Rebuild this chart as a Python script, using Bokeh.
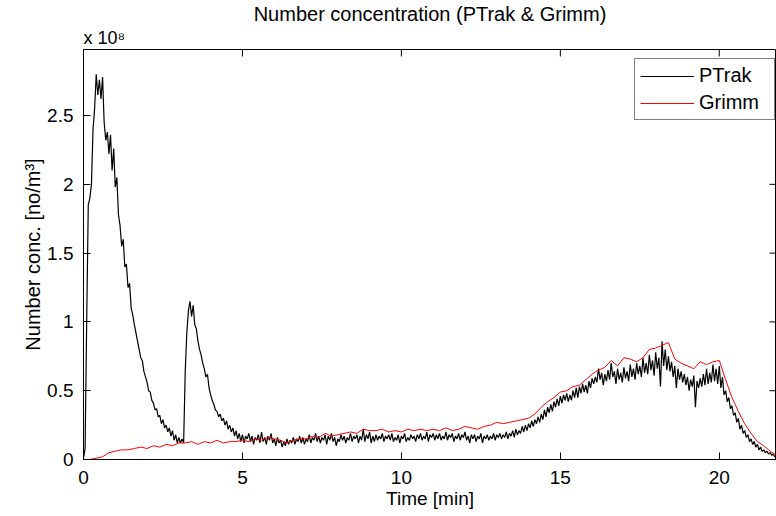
from bokeh.plotting import figure
from bokeh.models import (Range1d, FixedTicker, Legend, LegendItem, Title,
                          CustomJSTickFormatter)
from bokeh.embed import file_html
from bokeh.resources import INLINE

# ---------------- data (values in units of 1e8 particles / m^3) ----------------
PTRAK_STEP = 0.05   # minutes between PTrak samples
GRIMM_STEP = 0.2    # minutes between Grimm samples

ptrak = [
    0.01, 0.08, 1.00, 1.85, 1.90, 2.00, 2.40, 2.55, 2.80, 2.65, 2.76, 2.62, 2.78, 2.45, 2.32, 2.38, 2.22, 2.36, 2.10, 2.26,
    1.98, 2.05, 1.78, 1.70, 1.55, 1.60, 1.40, 1.42, 1.25, 1.28, 1.10, 1.05, 0.98, 0.92, 0.86, 0.80, 0.74, 0.72, 0.64, 0.60,
    0.56, 0.50, 0.49, 0.43, 0.41, 0.36, 0.37, 0.31, 0.32, 0.26, 0.29, 0.23, 0.25, 0.20, 0.23, 0.17, 0.21, 0.14, 0.18, 0.12,
    0.16, 0.12, 0.15, 0.12, 0.64, 0.92, 1.08, 1.15, 1.04, 1.12, 0.98, 0.95, 0.86, 0.80, 0.76, 0.70, 0.66, 0.60, 0.62, 0.52,
    0.47, 0.43, 0.40, 0.36, 0.35, 0.31, 0.33, 0.28, 0.30, 0.25, 0.28, 0.22, 0.25, 0.20, 0.23, 0.17, 0.21, 0.15, 0.19, 0.13,
    0.18, 0.12, 0.17, 0.15, 0.19, 0.13, 0.17, 0.11, 0.16, 0.14, 0.18, 0.12, 0.20, 0.13, 0.16, 0.11, 0.17, 0.14, 0.19, 0.12,
    0.15, 0.10, 0.16, 0.12, 0.14, 0.09, 0.13, 0.10, 0.15, 0.11, 0.14, 0.12, 0.16, 0.11, 0.15, 0.13, 0.17, 0.12, 0.16, 0.11,
    0.15, 0.13, 0.18, 0.12, 0.16, 0.14, 0.19, 0.13, 0.17, 0.12, 0.16, 0.14, 0.18, 0.11, 0.17, 0.14, 0.19, 0.13, 0.16, 0.10,
    0.15, 0.13, 0.18, 0.14, 0.17, 0.12, 0.16, 0.14, 0.19, 0.13, 0.17, 0.15, 0.18, 0.12, 0.17, 0.14, 0.22, 0.13, 0.18, 0.15,
    0.20, 0.12, 0.17, 0.13, 0.18, 0.14, 0.17, 0.15, 0.19, 0.13, 0.17, 0.15, 0.18, 0.14, 0.19, 0.13, 0.16, 0.14, 0.18, 0.12,
    0.17, 0.15, 0.19, 0.13, 0.16, 0.14, 0.18, 0.15, 0.17, 0.13, 0.18, 0.15, 0.19, 0.14, 0.17, 0.15, 0.20, 0.13, 0.18, 0.16,
    0.19, 0.14, 0.18, 0.15, 0.19, 0.14, 0.17, 0.15, 0.20, 0.14, 0.18, 0.16, 0.19, 0.13, 0.17, 0.15, 0.19, 0.14, 0.18, 0.16,
    0.20, 0.14, 0.17, 0.12, 0.18, 0.15, 0.18, 0.13, 0.17, 0.15, 0.19, 0.12, 0.17, 0.15, 0.18, 0.14, 0.17, 0.15, 0.19, 0.14,
    0.18, 0.16, 0.19, 0.15, 0.18, 0.16, 0.20, 0.15, 0.19, 0.17, 0.21, 0.16, 0.22, 0.18, 0.21, 0.19, 0.24, 0.20, 0.25, 0.21,
    0.26, 0.23, 0.28, 0.24, 0.29, 0.26, 0.31, 0.27, 0.33, 0.29, 0.36, 0.31, 0.38, 0.34, 0.40, 0.35, 0.42, 0.38, 0.44, 0.39,
    0.46, 0.41, 0.47, 0.43, 0.48, 0.42, 0.47, 0.43, 0.50, 0.45, 0.52, 0.45, 0.53, 0.48, 0.55, 0.49, 0.54, 0.48, 0.57, 0.52,
    0.59, 0.55, 0.60, 0.56, 0.66, 0.58, 0.63, 0.54, 0.62, 0.57, 0.65, 0.58, 0.70, 0.60, 0.64, 0.55, 0.66, 0.58, 0.63, 0.56,
    0.67, 0.59, 0.64, 0.57, 0.69, 0.60, 0.66, 0.58, 0.70, 0.62, 0.68, 0.60, 0.74, 0.63, 0.70, 0.62, 0.76, 0.65, 0.72, 0.61,
    0.78, 0.66, 0.74, 0.53, 0.86, 0.68, 0.80, 0.65, 0.75, 0.64, 0.71, 0.60, 0.68, 0.52, 0.66, 0.58, 0.64, 0.56, 0.62, 0.54,
    0.60, 0.50, 0.58, 0.53, 0.61, 0.38, 0.57, 0.52, 0.59, 0.53, 0.62, 0.54, 0.66, 0.55, 0.63, 0.56, 0.69, 0.57, 0.66, 0.55,
    0.68, 0.52, 0.60, 0.47, 0.50, 0.42, 0.45, 0.37, 0.39, 0.32, 0.34, 0.27, 0.30, 0.22, 0.25, 0.19, 0.21, 0.16, 0.18, 0.13,
    0.15, 0.11, 0.13, 0.09, 0.11, 0.07, 0.09, 0.06, 0.07, 0.05, 0.06, 0.04, 0.05, 0.03, 0.04, 0.02, 0.03,
]

grimm = [
    0.00, 0.00, 0.01, 0.02, 0.05, 0.06, 0.07, 0.07, 0.08, 0.09,
    0.08, 0.10, 0.09, 0.11, 0.10, 0.12, 0.12, 0.13, 0.11, 0.13,
    0.12, 0.14, 0.12, 0.13, 0.13, 0.14, 0.13, 0.15, 0.14, 0.16,
    0.15, 0.14, 0.12, 0.14, 0.15, 0.15, 0.17, 0.16, 0.19, 0.17,
    0.18, 0.19, 0.20, 0.19, 0.22, 0.21, 0.21, 0.22, 0.20, 0.21,
    0.20, 0.22, 0.21, 0.22, 0.21, 0.22, 0.21, 0.23, 0.21, 0.22,
    0.24, 0.23, 0.22, 0.24, 0.25, 0.27, 0.26, 0.27, 0.28, 0.29,
    0.30, 0.33, 0.38, 0.42, 0.45, 0.49, 0.50, 0.53, 0.54, 0.58,
    0.62, 0.65, 0.67, 0.72, 0.68, 0.74, 0.73, 0.71, 0.74, 0.80,
    0.81, 0.83, 0.85, 0.73, 0.70, 0.68, 0.66, 0.71, 0.69, 0.71,
    0.72, 0.58, 0.45, 0.35, 0.26, 0.19, 0.13, 0.10, 0.06, 0.03,
]

ptrak_t = [round(i * PTRAK_STEP, 3) for i in range(len(ptrak))]
grimm_t = [round(i * GRIMM_STEP, 3) for i in range(len(grimm))]

x_ticks = [0, 5, 10, 15, 20]
y_ticks = [0, 0.5, 1, 1.5, 2, 2.5]

title_text = "Number concentration (PTrak & Grimm)"
exponent_text = "x 10\u2078"
x_label = "Time [min]"
y_label = "Number conc. [no/m³]"
series_names = ["PTrak", "Grimm"]

X_MAX = 21.8
Y_MAX = 2.98
FONT = "Liberation Sans"

# ---------------- figure ----------------
p = figure(width=776, height=516, output_backend="svg", toolbar_location=None,
           x_range=Range1d(0, X_MAX), y_range=Range1d(0, Y_MAX),
           min_border_left=83, min_border_right=0, min_border_top=47,
           min_border_bottom=57, x_axis_label=x_label, y_axis_label=y_label)
p.background_fill_color = "white"
p.border_fill_color = "white"
p.outline_line_color = "black"
p.outline_line_width = 1
p.xgrid.visible = False
p.ygrid.visible = False

fmt = CustomJSTickFormatter(code="return String(Math.round(tick*10)/10);")

for ax, ticks in ((p.xaxis[0], x_ticks), (p.yaxis[0], y_ticks)):
    ax.ticker = FixedTicker(ticks=ticks)
    ax.formatter = fmt
    ax.axis_line_color = "black"
    ax.major_tick_line_color = "black"
    ax.major_tick_in = 7
    ax.major_tick_out = 0
    ax.minor_tick_line_color = None
    ax.major_label_text_font = FONT
    ax.major_label_text_color = "black"
    ax.major_label_text_font_size = "19px"
    ax.axis_label_text_font = FONT
    ax.axis_label_text_font_style = "normal"
    ax.axis_label_text_color = "black"
    ax.axis_label_text_font_size = "19px"

p.xaxis[0].major_label_standoff = 11
p.xaxis[0].axis_label_standoff = 1
p.yaxis[0].major_label_standoff = 10
p.yaxis[0].axis_label_standoff = 0
p.yaxis[0].axis_label_text_font_size = "20px"

# inward ticks on the top and right edges of the box (MATLAB style)
tick_dx = 7 / 31.8   # ~7 px in data units along x
tick_dy = 7 / 138.0  # ~7 px in data units along y
p.segment(x0=x_ticks, y0=[Y_MAX] * len(x_ticks), x1=x_ticks,
          y1=[Y_MAX - tick_dy] * len(x_ticks), line_color="black", line_width=1)
p.segment(x0=[X_MAX] * len(y_ticks), y0=y_ticks, x1=[X_MAX - tick_dx] * len(y_ticks),
          y1=y_ticks, line_color="black", line_width=1)

r1 = p.line(ptrak_t, ptrak, line_color="black", line_width=1.2)
r2 = p.line(grimm_t, grimm, line_color="#ff0000", line_width=1)

legend = Legend(items=[LegendItem(label=series_names[0], renderers=[r1]),
                       LegendItem(label=series_names[1], renderers=[r2])],
                location=(551, 339))
legend.border_line_color = "black"
legend.border_line_width = 1
legend.background_fill_color = "white"
legend.background_fill_alpha = 1
legend.label_text_font = FONT
legend.label_text_font_size = "20px"
legend.label_text_color = "black"
legend.glyph_width = 54
legend.glyph_height = 18
legend.label_height = 18
legend.label_width = 70
legend.label_standoff = 5
legend.spacing = 4
legend.padding = 5
legend.margin = 0
p.add_layout(legend)

# exponent just above the top-left corner of the box, title above it
p.add_layout(Title(text=exponent_text, align="left", text_font=FONT,
                   text_font_size="18px", text_font_style="normal",
                   text_color="black", standoff=3), "above")
p.title.text = title_text
p.title.align = "center"
p.title.text_font = FONT
p.title.text_font_size = "20px"
p.title.text_font_style = "normal"
p.title.text_color = "black"
p.title.standoff = 0

open("out.html", "w").write(file_html(p, INLINE))
